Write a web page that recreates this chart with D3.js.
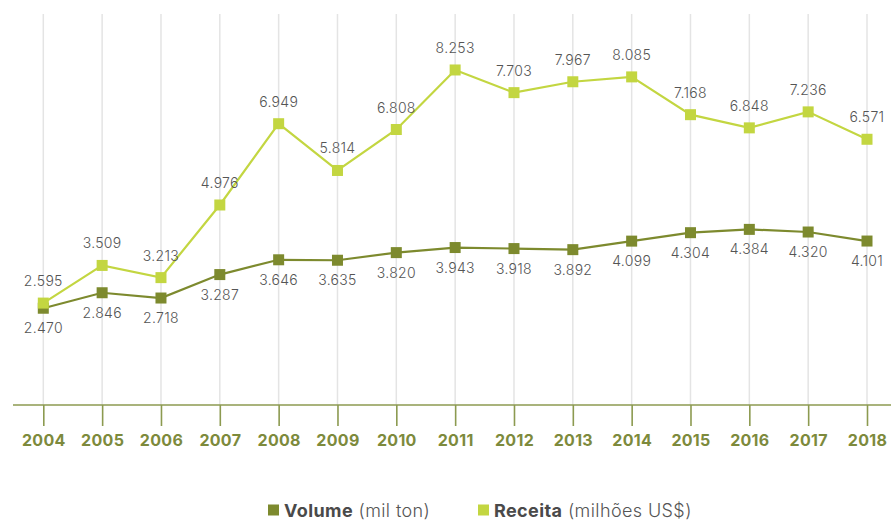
<!DOCTYPE html>
<html>
<head>
<meta charset="utf-8">
<script src="https://cdn.jsdelivr.net/npm/d3@7/dist/d3.min.js"></script>
<style>
  html, body { margin: 0; padding: 0; background: #fff; }
  svg { display: block; font-family: "Inter", "Open Sans", sans-serif; }
</style>
</head>
<body>
<svg id="chart" width="891" height="522"></svg>
<script>
// Exportações: volume (mil ton) e receita (milhões US$), 2004–2018
const years = ["2004","2005","2006","2007","2008","2009","2010","2011","2012","2013","2014","2015","2016","2017","2018"];
const volume = [2.470, 2.846, 2.718, 3.287, 3.646, 3.635, 3.820, 3.943, 3.918, 3.892, 4.099, 4.304, 4.384, 4.320, 4.101];
const receita = [2.595, 3.509, 3.213, 4.976, 6.949, 5.814, 6.808, 8.253, 7.703, 7.967, 8.085, 7.168, 6.848, 7.236, 6.571];
const seriesNames = ["Volume", "Receita"];
const seriesUnits = ["(mil ton)", "(milhões US$)"];

const W = 891, H = 522;
const colVolume = "#7d8a2e";
const colReceita = "#c3d641";
const colAxis = "#8c9a50";
const axisY = 405;

const svg = d3.select("#chart");

const x = d3.scalePoint().domain(years).range([43.3, 867]);
const y = d3.scaleLinear().domain([0, 10]).range([410, -2]);

// vertical gridlines
svg.append("g").selectAll("line")
  .data(years).join("line")
  .attr("x1", d => x(d)).attr("x2", d => x(d))
  .attr("y1", 14).attr("y2", axisY)
  .attr("stroke", "#e4e4e4").attr("stroke-width", 1.5);

// x axis
const xAxis = svg.append("g")
  .attr("transform", `translate(0,${axisY})`)
  .call(d3.axisBottom(x).tickSize(21).tickPadding(9).tickSizeOuter(0));
xAxis.select(".domain").remove();
xAxis.append("line").attr("x1", 13).attr("x2", W).attr("y1", 0).attr("y2", 0)
  .attr("stroke", colAxis).attr("stroke-width", 1.6);
xAxis.selectAll(".tick line").attr("stroke", colAxis).attr("stroke-width", 1.6);
xAxis.selectAll(".tick text")
  .attr("fill", "#7d8a3c").attr("font-size", 16).attr("font-weight", 700)
  .attr("letter-spacing", 0.3)
  .attr("font-family", "Inter, 'Open Sans', sans-serif");

const series = [
  { name: seriesNames[0], values: volume, color: colVolume, labelDy: 25 },
  { name: seriesNames[1], values: receita, color: colReceita, labelDy: -17 }
];

const line = d3.line().x((d, i) => x(years[i])).y(d => y(d));
const fmt = d => d.toFixed(3);

series.forEach(s => {
  const g = svg.append("g");
  g.append("path").datum(s.values)
    .attr("d", line).attr("fill", "none")
    .attr("stroke", s.color).attr("stroke-width", 2.2);
  const m = 11;
  g.selectAll("rect").data(s.values).join("rect")
    .attr("x", (d, i) => x(years[i]) - m / 2)
    .attr("y", d => y(d) - m / 2)
    .attr("width", m).attr("height", m)
    .attr("fill", s.color);
  g.selectAll("text").data(s.values).join("text")
    .attr("x", (d, i) => x(years[i]))
    .attr("y", d => y(d) + s.labelDy)
    .attr("text-anchor", "middle")
    .attr("font-size", 14).attr("font-weight", 300)
    .attr("letter-spacing", 0.3)
    .attr("fill", "#555")
    .text(fmt);
});

// legend
const legend = svg.append("g").attr("font-size", 18).attr("letter-spacing", 0.4);
const legendX = [268, 478];
series.forEach((s, i) => {
  const lg = legend.append("g").attr("transform", `translate(${legendX[i]},510)`);
  lg.append("rect").attr("x", 0).attr("y", -5.5).attr("width", 11).attr("height", 11).attr("fill", s.color);
  const t = lg.append("text").attr("x", 16).attr("y", 6.5);
  t.append("tspan").attr("font-weight", 700).attr("fill", "#4a4a4a").text(s.name);
  t.append("tspan").attr("font-weight", 300).attr("fill", "#555").text(" " + seriesUnits[i]);
});
</script>
</body>
</html>
